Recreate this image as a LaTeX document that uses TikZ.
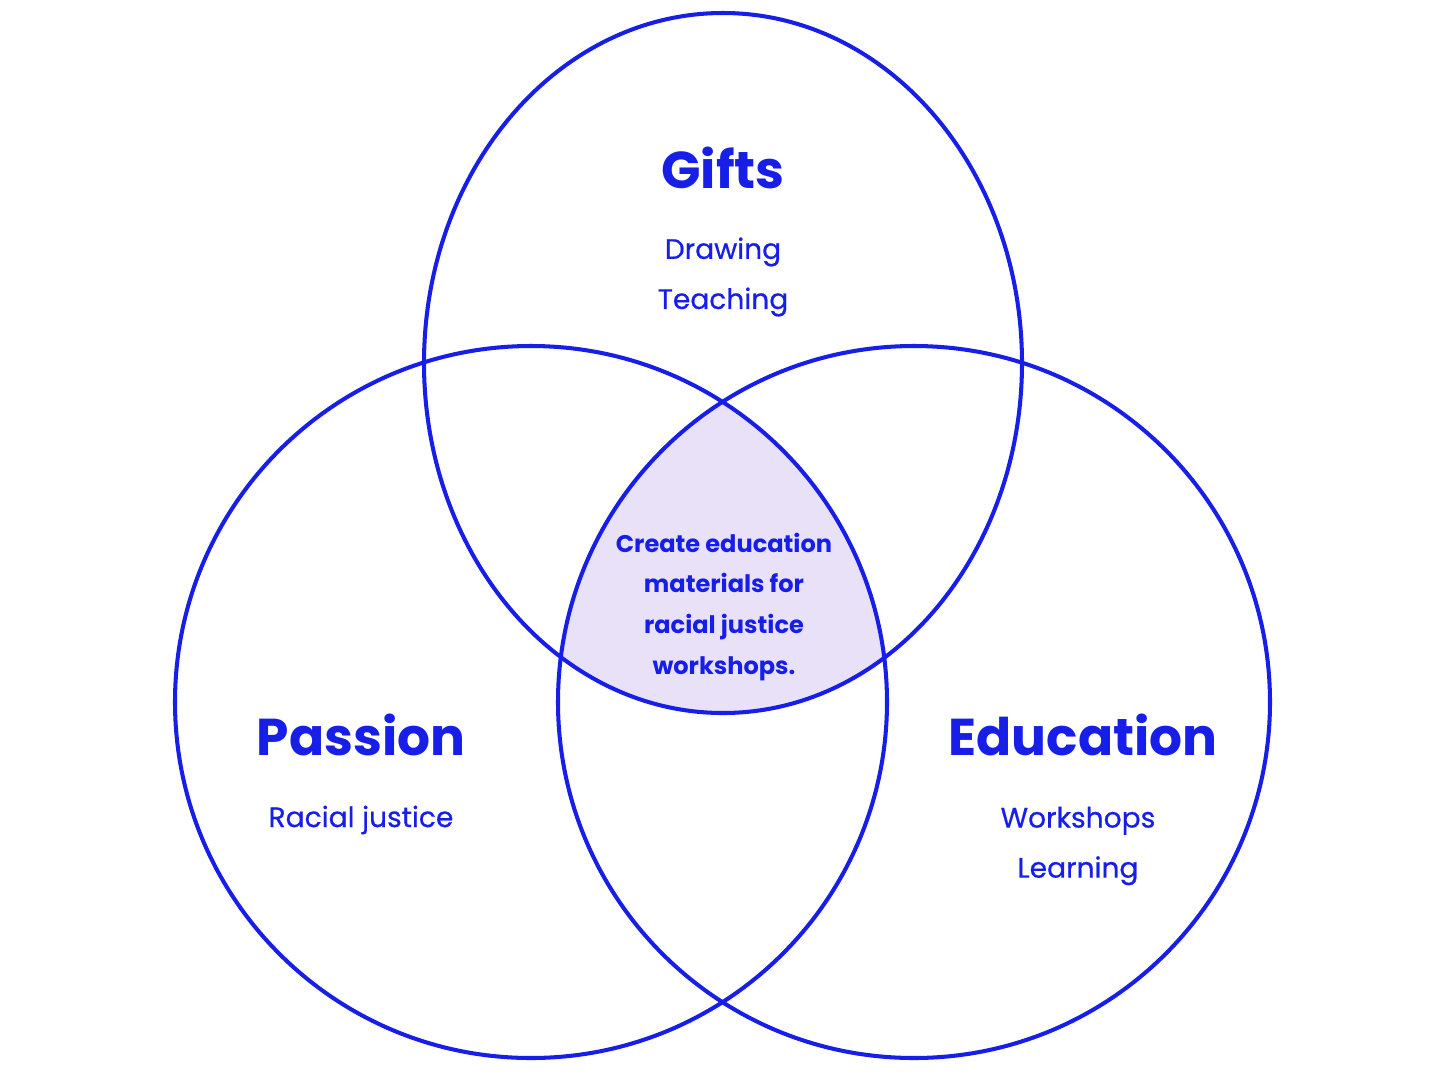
\documentclass[tikz,border=0pt]{standalone}
\usepackage{fontspec}
\setmainfont{Poppins}
\definecolor{vennblue}{RGB}{22,30,232}
\definecolor{vennfill}{RGB}{233,225,248}
\begin{document}
\begin{tikzpicture}[x=0.02cm,y=-0.02cm, line join=round,line cap=round,
		ring/.style={draw=vennblue,line width=2.3pt},
		head/.style={text=vennblue,font=\fontsize{29.5}{34}\selectfont\bfseries},
		item/.style={text=vennblue,align=center,font=\fontsize{16}{28.5}\selectfont\addfontfeatures{FakeBold=0.6}},
		core/.style={text=vennblue,align=center,font=\fontsize{13.7}{23.3}\selectfont\bfseries}]
	% --- Khung hình ---
	\useasboundingbox (0,0) rectangle (1448,1086);
	% --- Tâm và bán kính ---
	\def\gx{723} \def\gy{363} \def\grx{299} \def\gry{350}
	\def\px{531} \def\py{702}
	\def\ex{914} \def\ey{702}
	\def\r{356}
	% --- Vùng giao nhau ---
	\begin{scope}
		\clip (\gx,\gy) ellipse [x radius=\grx, y radius=\gry];
		\clip (\px,\py) circle (\r);
		\fill[vennfill] (\ex,\ey) circle (\r);
	\end{scope}
	% --- Ba vòng tròn ---
	\draw[ring] (\gx,\gy) ellipse [x radius=\grx, y radius=\gry];
	\draw[ring] (\px,\py) circle (\r);
	\draw[ring] (\ex,\ey) circle (\r);
	% --- Nhãn ---
	\node[head,anchor=base] (gifts) at (723,188) {Gifts};
	\node[item] (giftsitems) at (723,277) {Drawing\\Teaching};
	\node[head,anchor=base] (passion) at (361,755) {Passion};
	\node[item] (passionitems) at (361,820) {Racial justice};
	\node[head,anchor=base] (education) at (1083,755) {Education};
	\node[item] (educationitems) at (1078,846) {Workshops\\Learning};
	\node[core] (center) at (724,607) {Create education\\materials for\\racial justice\\workshops.};
\end{tikzpicture}
\end{document}
